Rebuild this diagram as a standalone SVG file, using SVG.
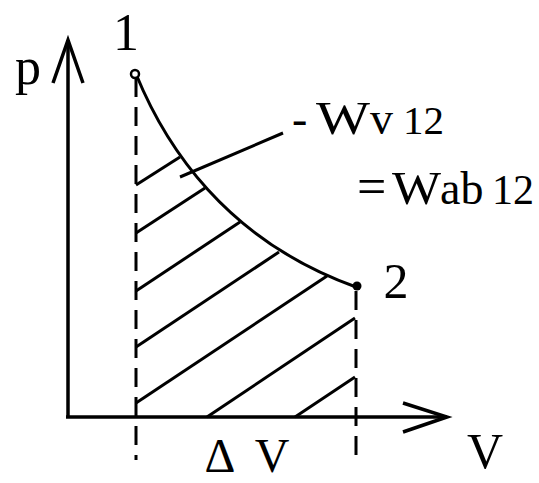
<svg xmlns="http://www.w3.org/2000/svg" width="539" height="483" viewBox="0 0 539 483">
<style>
.ln{stroke:#000;stroke-width:3;fill:none;stroke-linecap:butt}
.ax{stroke:#000;stroke-width:3.5;fill:none}
.ds{stroke:#000;stroke-width:3;fill:none;stroke-dasharray:19 10}
.t{font-family:"Liberation Serif","Times New Roman",serif;fill:#000}
</style>
<rect width="539" height="483" fill="#fff"/>
<g id="axes">
<line class="ax" x1="68" y1="417" x2="68" y2="40"/>
<polyline class="ax" points="53,83 68,40 83,83"/>
<line class="ax" x1="66" y1="417" x2="447" y2="417"/>
<polyline class="ax" points="403,403 447,417 403,432"/>
</g>
<g id="connectors">
<line class="ds" x1="136" y1="78" x2="136" y2="460"/>
<line class="ds" x1="356" y1="291" x2="356" y2="462"/>
<path class="ln" d="M136,74 C165,145 225,240 356,287"/>
<g id="hatch">
<line class="ln" x1="136" y1="185" x2="180" y2="157"/>
<line class="ln" x1="136" y1="233" x2="205" y2="188"/>
<line class="ln" x1="136" y1="291" x2="240" y2="222"/>
<line class="ln" x1="136" y1="347" x2="279" y2="252"/>
<line class="ln" x1="136" y1="403" x2="327" y2="276"/>
<line class="ln" x1="207" y1="417" x2="355" y2="318"/>
<line class="ln" x1="295" y1="417" x2="355" y2="377"/>
</g>
<line class="ln" x1="180" y1="177" x2="283" y2="133"/>
</g>
<g id="point1">
<circle cx="135" cy="74" r="4" fill="#fff" stroke="#000" stroke-width="2.5"/>
<text class="t" x="126" y="50" font-size="52" text-anchor="middle">1</text>
</g>
<g id="point2">
<circle cx="357" cy="286" r="4.5" fill="#000"/>
<text class="t" x="396" y="298" font-size="50" text-anchor="middle">2</text>
</g>
<g id="labels">
<text class="t" x="28" y="84" font-size="52" text-anchor="middle">p</text>
<text class="t" x="485" y="468" font-size="50" text-anchor="middle">V</text>
<text class="t" x="220" y="472" font-size="48" text-anchor="middle">Δ</text>
<text class="t" x="272" y="472" font-size="48" text-anchor="middle">V</text>
<text class="t" x="292" y="134" font-size="46">-</text>
<text class="t" x="316" y="134" font-size="46" textLength="54" lengthAdjust="spacingAndGlyphs">W</text>
<text class="t" x="370" y="134" font-size="46">v</text>
<text class="t" x="403" y="134" font-size="41">12</text>
<text class="t" x="357" y="204" font-size="52">=</text>
<text class="t" x="392" y="204" font-size="46" textLength="49" lengthAdjust="spacingAndGlyphs">W</text>
<text class="t" x="440" y="204" font-size="46">ab</text>
<text class="t" x="492" y="204" font-size="42">12</text>
</g>
</svg>
